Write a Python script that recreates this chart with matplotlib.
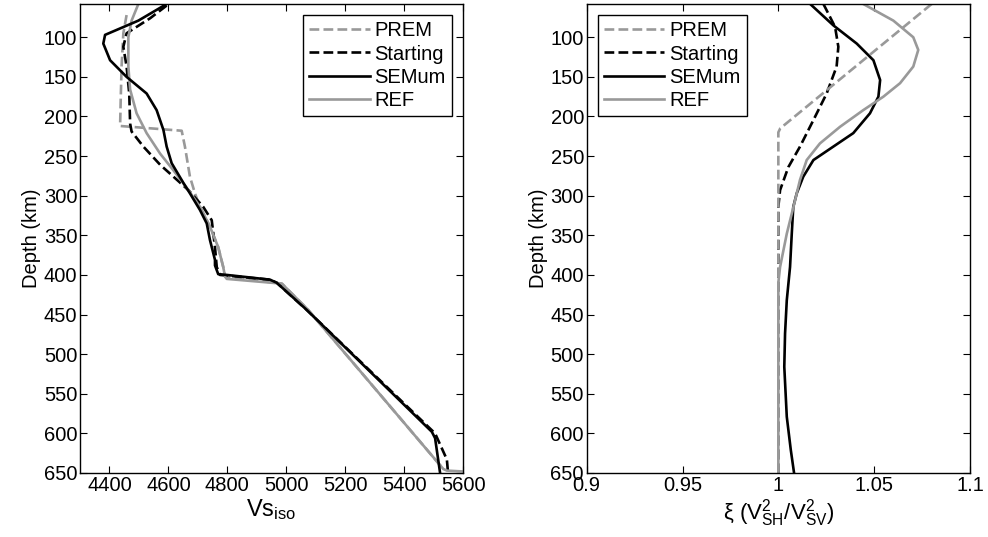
import numpy as np
import matplotlib
matplotlib.use('Agg')
import matplotlib.pyplot as plt

plt.rcParams['font.family'] = ['Liberation Sans', 'DejaVu Sans']
plt.rcParams['mathtext.fontset'] = 'custom'
plt.rcParams['mathtext.rm'] = 'Liberation Sans'
plt.rcParams['mathtext.it'] = 'Liberation Sans'

# ---- left panel: isotropic Vs (m/s) vs depth (km)
prem_vs_d = [72, 95, 137, 180, 212, 218, 238, 276, 297, 314, 339, 365, 390, 402, 411, 444, 645]
prem_vs = [4458, 4447, 4441, 4438, 4436, 4645, 4656, 4673, 4690, 4707, 4741, 4769, 4786, 4792,
           4985, 5074, 5533]

start_vs_d = [60, 76, 95, 112, 137, 171, 209, 219, 238, 261, 276, 293, 314, 331, 365, 390,
              400, 406, 410, 444, 600, 633, 650]
start_vs = [4594, 4538, 4458, 4447, 4458, 4467, 4470, 4475, 4515, 4572, 4617, 4668, 4718, 4747,
            4758, 4764, 4775, 4945, 4968, 5069, 5505, 5545, 5549]

sem_vs_d = [58, 79, 97, 108, 129, 150, 171, 192, 217, 238, 259, 284, 297, 318, 335, 356, 381,
            388, 399, 400, 406, 410, 444, 598, 606, 650]
sem_vs = [4594, 4498, 4385, 4379, 4402, 4458, 4526, 4560, 4583, 4594, 4611, 4651, 4673, 4707,
          4730, 4741, 4758, 4758, 4769, 4798, 4945, 4968, 5069, 5494, 5505, 5522]

ref_vs_d = [58, 79, 100, 137, 166, 196, 221, 247, 268, 293, 314, 339, 365, 390, 402, 405, 411,
            444, 645, 647, 648]
ref_vs = [4498, 4475, 4464, 4464, 4470, 4492, 4526, 4572, 4617, 4668, 4707, 4741, 4769, 4786,
          4792, 4798, 4985, 5074, 5533, 5545, 5595]

# ---- right panel: radial anisotropy xi vs depth (km)
prem_xi_d = [58, 215, 220, 650]
prem_xi = [1.080, 1.001, 1.000, 1.000]

start_xi_d = [58, 66, 87, 112, 137, 171, 205, 238, 264, 293, 314, 390, 650]
start_xi = [1.0235, 1.0252, 1.0296, 1.0313, 1.0304, 1.0252, 1.0182, 1.0113, 1.0052, 1.0009,
            1.0, 1.0, 1.0]

sem_xi_d = [58, 85, 108, 129, 154, 175, 196, 221, 238, 255, 276, 297, 314, 348, 390, 432, 474,
            516, 579, 621, 650]
sem_xi = [1.0166, 1.0287, 1.0409, 1.0496, 1.0531, 1.0522, 1.0478, 1.0391, 1.0287, 1.0183,
          1.0130, 1.0096, 1.0078, 1.0070, 1.0061, 1.0044, 1.0035, 1.0031, 1.0044, 1.0065, 1.0082]

ref_xi_d = [58, 79, 100, 116, 137, 158, 175, 192, 213, 234, 255, 280, 306, 348, 390, 410, 650]
ref_xi = [1.0443, 1.060, 1.0704, 1.0730, 1.0704, 1.0635, 1.0548, 1.0443, 1.0322, 1.0217,
          1.0148, 1.0113, 1.0087, 1.0044, 1.0009, 1.0, 1.0]

gray = '#999999'
lw = 1.9

fig = plt.figure(figsize=(9.88, 5.37), dpi=100)
ax1 = fig.add_axes([0.081, 0.1192, 0.3877, 0.8734])
ax2 = fig.add_axes([0.5938, 0.1192, 0.388, 0.8734])

ax1.plot(prem_vs, prem_vs_d, '--', color=gray, lw=lw, label='PREM')
ax1.plot(start_vs, start_vs_d, '--', color='k', lw=lw, label='Starting')
ax1.plot(ref_vs, ref_vs_d, '-', color=gray, lw=lw, label='REF')
ax1.plot(sem_vs, sem_vs_d, '-', color='k', lw=lw, label='SEMum')

ax2.plot(start_xi, start_xi_d, '--', color='k', lw=lw, label='Starting')
ax2.plot(prem_xi, prem_xi_d, '--', color=gray, lw=lw, label='PREM')
ax2.plot(sem_xi, sem_xi_d, '-', color='k', lw=lw, label='SEMum')
ax2.plot(ref_xi, ref_xi_d, '-', color=gray, lw=lw, label='REF')

order = ['PREM', 'Starting', 'SEMum', 'REF']
for ax, loc in [(ax1, 'upper right'), (ax2, 'upper left')]:
    h, l = ax.get_legend_handles_labels()
    hd = dict(zip(l, h))
    leg = ax.legend([hd[k] for k in order], order, loc=loc, fontsize=14.5, fancybox=False,
                    framealpha=1, edgecolor='k', handlelength=3.0, borderpad=0.3,
                    labelspacing=0.22, handletextpad=0.25, borderaxespad=0.55)
    leg.get_frame().set_linewidth(1.0)
    ax.set_ylim(650, 58)
    ax.set_yticks(np.arange(100, 651, 50))
    ax.set_ylabel('Depth (km)', fontsize=14.5, labelpad=2)
    ax.tick_params(direction='in', top=True, right=True, labelsize=14.5, length=5, pad=2)
    for s in ax.spines.values():
        s.set_linewidth(1.0)

ax1.set_xlim(4300, 5600)
ax1.set_xticks(np.arange(4400, 5601, 200))
ax1.set_xlabel('Vs$_{\\mathrm{iso}}$', fontsize=17, labelpad=2)

ax2.set_xlim(0.9, 1.1)
ax2.set_xticks([0.9, 0.95, 1.0, 1.05, 1.1])
ax2.set_xticklabels(['0.9', '0.95', '1', '1.05', '1.1'])
ax2.set_xlabel('ξ (V$^2_{\\mathrm{SH}}$/V$^2_{\\mathrm{SV}}$)', fontsize=16, labelpad=2)

fig.savefig('out.png', dpi=100)
